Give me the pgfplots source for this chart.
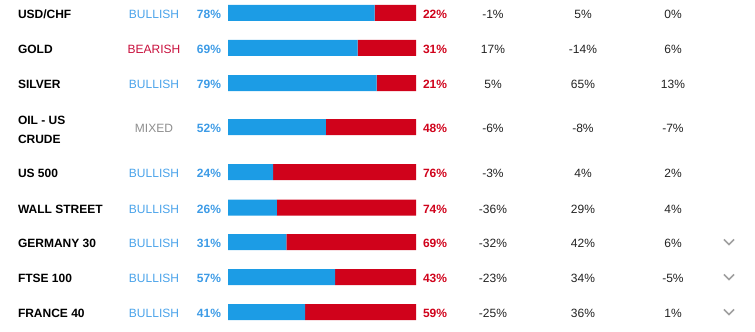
\documentclass[border=0pt]{standalone}
\usepackage{pgfplots}
\pgfplotsset{compat=1.18}
\usepackage{pgfplotstable}
\usepackage{fontspec}
\setmainfont{Liberation Sans}
\definecolor{barblue}{HTML}{1C9CE5}
\definecolor{barred}{HTML}{D0021B}
\definecolor{txtblue}{HTML}{3D9BE6}
\definecolor{bullblue}{HTML}{4AA3EA}
\definecolor{bearred}{HTML}{C80F3C}
\definecolor{mixgray}{HTML}{8E8E8E}
\definecolor{numdark}{HTML}{222222}
\definecolor{chev}{HTML}{A0A0A0}

\pgfplotstableread{
ypos long short
13    78 22
48    69 31
83    79 21
127   52 48
172   24 76
207.5 26 74
242   31 69
277   57 43
312   41 59
}\sentdata

\begin{document}
\begin{tikzpicture}
\path (0,0) rectangle (755bp,332bp);
\begin{axis}[
  at={(228bp,0)}, anchor=south west,
  scale only axis, width=188bp, height=332bp,
  xmin=0, xmax=100, ymin=0, ymax=332, y dir=reverse,
  hide axis, xbar stacked, bar width=16bp, clip=false]
\addplot[fill=barblue, draw=none] table[x=long, y=ypos] {\sentdata};
\addplot[fill=barred, draw=none] table[x=short, y=ypos] {\sentdata};
\end{axis}
\begin{scope}[x=1bp, y=-1bp, yshift=332bp, every node/.style={inner sep=0pt, outer sep=0pt, font=\fontsize{12bp}{14bp}\selectfont}]
\foreach \y/\name/\sent/\col/\l/\s/\a/\b/\c in {
  13/USD\slash CHF/BULLISH/bullblue/78/22/-1/5/0,
  48/GOLD/BEARISH/bearred/69/31/17/-14/6,
  83/SILVER/BULLISH/bullblue/79/21/5/65/13,
  127/{}/MIXED/mixgray/52/48/-6/-8/-7,
  172/US 500/BULLISH/bullblue/24/76/-3/4/2,
  207.5/WALL STREET/BULLISH/bullblue/26/74/-36/29/4,
  242/GERMANY 30/BULLISH/bullblue/31/69/-32/42/6,
  277/FTSE 100/BULLISH/bullblue/57/43/-23/34/-5,
  312/FRANCE 40/BULLISH/bullblue/41/59/-25/36/1}{
  \node[anchor=base west, font=\fontsize{12bp}{14bp}\selectfont\bfseries, text=black] at (18,\y+6) {\name};
  \node[anchor=base, text=\col] at (154,\y+6) {\sent};
  \node[anchor=base east, font=\fontsize{12bp}{14bp}\selectfont\bfseries, text=txtblue] at (221,\y+6) {\l\%};
  \node[anchor=base west, font=\fontsize{12bp}{14bp}\selectfont\bfseries, text=barred] at (423,\y+6) {\s\%};
  \node[anchor=base, text=numdark] at (493,\y+6) {\a\%};
  \node[anchor=base, text=numdark] at (583,\y+6) {\b\%};
  \node[anchor=base, text=numdark] at (673,\y+6) {\c\%};
}
\node[anchor=base west, font=\fontsize{12bp}{14bp}\selectfont\bfseries] at (18,124.3) {OIL - US};
\node[anchor=base west, font=\fontsize{12bp}{14bp}\selectfont\bfseries] at (18,143.3) {CRUDE};
\foreach \y in {242,277,312}{
  \draw[chev, line width=1.6bp] (724,\y-2.5) -- (729,\y+2.5) -- (734,\y-2.5);
}
\end{scope}
\end{tikzpicture}
\end{document}
